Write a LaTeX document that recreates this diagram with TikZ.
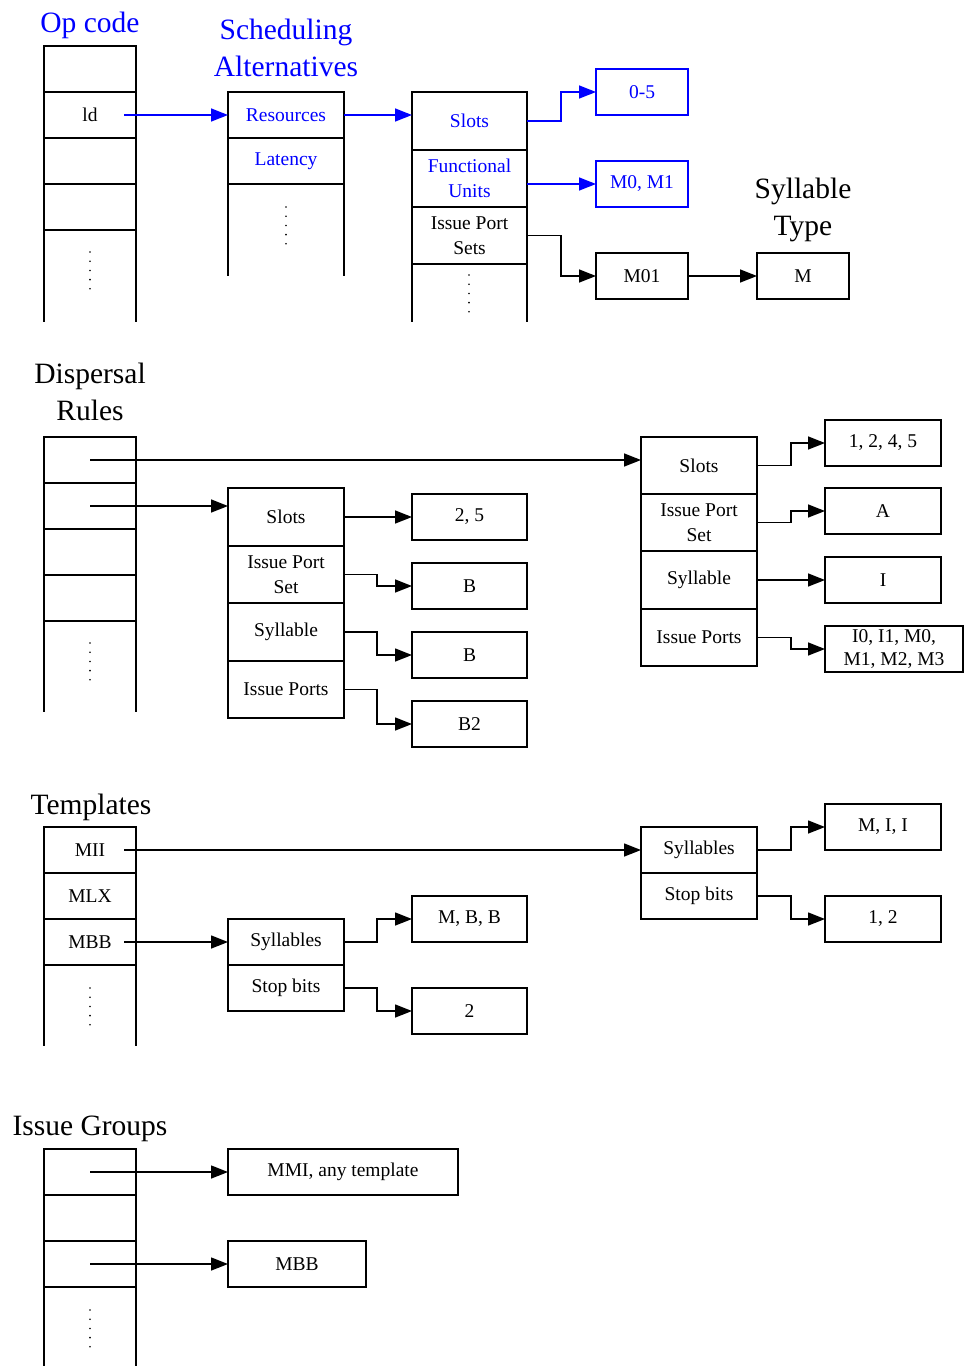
\documentclass[tikz,border=0pt]{standalone}
\usepackage{fontspec}
\setmainfont{Liberation Serif}
\usetikzlibrary{arrows.meta}
\definecolor{myblue}{RGB}{0,0,255}
\newcommand\labfont{\fontsize{19.5}{24.5}\selectfont}
\newcommand\titfont{\fontsize{29.5}{36.5}\selectfont}
\tikzset{
  cell/.style={draw, line width=1.5pt, inner sep=0pt, outer sep=0pt, align=center, font=\labfont},
  bluecell/.style={cell, draw=myblue, text=myblue},
  bluetext/.style={text=myblue},
  colline/.style={line width=1.5pt},
  conn/.style={line width=1.5pt, -{Triangle[length=17pt,width=13pt]}},
  bconn/.style={conn, draw=myblue},
  ttl/.style={font=\titfont, align=center, inner sep=0pt},
}
\newcommand\cb[7]{%
  \pgfmathsetmacro\cbx{(#2+#4)/2}%
  \pgfmathsetmacro\cby{(#3+#5)/2}%
  \pgfmathsetmacro\cbw{#4-#2}%
  \pgfmathsetmacro\cbh{#5-#3}%
  \node[cell,minimum width=\cbw pt,minimum height=\cbh pt,#6] (#1) at (\cbx,\cby) {#7};}
\newcommand\vdts[2]{\foreach \k in {0,...,4}{\fill (#1,#2+9.2*\k) circle (0.9pt);}}
\begin{document}
\begin{tikzpicture}[x=1pt,y=-1pt]
\useasboundingbox (0,0) rectangle (966,1366);
% ---------------- Op code / Scheduling ----------------
\node[ttl,text=myblue] (tOp) at (90,25) {Op code};
\node[ttl,text=myblue] (tSA) at (286,48) {Scheduling\\Alternatives};
\cb{oc1}{44}{46}{136}{92}{}{}
\cb{oc2}{44}{92}{136}{138}{}{ld}
\cb{oc3}{44}{138}{136}{184}{}{}
\cb{oc4}{44}{184}{136}{230}{}{}
\draw[colline] (oc4.south west) -- (44,322) (oc4.south east) -- (136,322);
\vdts{90}{252}
\cb{sa1}{228}{92}{344}{138}{bluetext}{Resources}
\cb{sa2}{228}{138}{344}{184}{bluetext}{Latency}
\draw[colline] (sa2.south west) -- (228,276) (sa2.south east) -- (344,276);
\vdts{286}{207}
\cb{sl1}{412}{92}{527}{150}{bluetext}{Slots}
\cb{sl2}{412}{150}{527}{207}{bluetext}{Functional\\Units}
\cb{sl3}{412}{207}{527}{264}{}{Issue Port\\Sets}
\draw[colline] (sl3.south west) -- (412,322) (sl3.south east) -- (527,322);
\vdts{469}{275}
\cb{b05}{596}{69}{688}{115}{bluecell}{0-5}
\cb{bm01}{596}{161}{688}{207}{bluecell}{M0, M1}
\cb{bM01}{596}{253}{688}{299}{}{M01}
\cb{bM}{757}{253}{849}{299}{}{M}
\node[ttl] (tST) at (803,210) {Syllable\\Type};
\draw[bconn] ([xshift=-12pt]oc2.east) -- (sa1.west);
\draw[bconn] (sa1.east) -- (sa1.east -| sl1.west);
\draw[bconn] (sl1.east) -- ++(34,0) |- (b05.west);
\draw[bconn] (bm01.west -| sl2.east) -- (bm01.west);
\draw[conn] (sl3.east) -- ++(34,0) |- (bM01.west);
\draw[conn] (bM01) -- (bM);
% ---------------- Dispersal Rules ----------------
\node[ttl] (tDR) at (90,392) {Dispersal\\Rules};
\cb{dr1}{44}{437}{136}{483}{}{}
\cb{dr2}{44}{483}{136}{529}{}{}
\cb{dr3}{44}{529}{136}{575}{}{}
\cb{dr4}{44}{575}{136}{621}{}{}
\draw[colline] (dr4.south west) -- (44,712) (dr4.south east) -- (136,712);
\vdts{90}{643}
\cb{ms1}{228}{488}{344}{546}{}{Slots}
\cb{ms2}{228}{546}{344}{603}{}{Issue Port\\Set}
\cb{ms3}{228}{603}{344}{661}{}{Syllable}
\cb{ms4}{228}{661}{344}{718}{}{Issue Ports}
\cb{mb1}{412}{494}{527}{540}{}{2, 5}
\cb{mb2}{412}{563}{527}{609}{}{B}
\cb{mb3}{412}{632}{527}{678}{}{B}
\cb{mb4}{412}{701}{527}{747}{}{B2}
\cb{rs1}{641}{437}{757}{494}{}{Slots}
\cb{rs2}{641}{494}{757}{551}{}{Issue Port\\Set}
\cb{rs3}{641}{551}{757}{609}{}{Syllable}
\cb{rs4}{641}{609}{757}{666}{}{Issue Ports}
\cb{rb1}{825}{420}{941}{466}{}{1, 2, 4, 5}
\cb{rb2}{825}{488}{941}{534}{}{A}
\cb{rb3}{825}{557}{941}{603}{}{I}
\cb{rb4}{825}{626}{963}{672}{font=\fontsize{19.5}{23.5}\selectfont}{I0, I1, M0,\\M1, M2, M3}
\draw[conn] (dr1.center) -- (dr1.center -| rs1.west);
\draw[conn] (dr2.center) -- (dr2.center -| ms1.west);
\draw[conn] (ms1.east) -- (mb1.west);
\draw[conn] (ms2.east) -- ++(33,0) |- (mb2.west);
\draw[conn] (ms3.east) -- ++(33,0) |- (mb3.west);
\draw[conn] (ms4.east) -- ++(33,0) |- (mb4.west);
\draw[conn] (rs1.east) -- ++(34,0) |- (rb1.west);
\draw[conn] (rs2.east) -- ++(34,0) |- (rb2.west);
\draw[conn] (rs3.east) -- (rb3.west);
\draw[conn] (rs4.east) -- ++(34,0) |- (rb4.west);
% ---------------- Templates ----------------
\node[ttl] (tTP) at (91,807) {Templates};
\cb{tp1}{44}{827}{136}{873}{}{MII}
\cb{tp2}{44}{873}{136}{919}{}{MLX}
\cb{tp3}{44}{919}{136}{965}{}{MBB}
\draw[colline] (tp3.south west) -- (44,1046) (tp3.south east) -- (136,1046);
\vdts{90}{988}
\cb{tm1}{228}{919}{344}{965}{}{Syllables}
\cb{tm2}{228}{965}{344}{1011}{}{Stop bits}
\cb{tb1}{412}{896}{527}{942}{}{M, B, B}
\cb{tb2}{412}{988}{527}{1034}{}{2}
\cb{tr1}{641}{827}{757}{873}{}{Syllables}
\cb{tr2}{641}{873}{757}{919}{}{Stop bits}
\cb{trb1}{825}{804}{941}{850}{}{M, I, I}
\cb{trb2}{825}{896}{941}{942}{}{1, 2}
\draw[conn] ([xshift=-12pt]tp1.east) -- (tr1.west);
\draw[conn] ([xshift=-12pt]tp3.east) -- (tm1.west);
\draw[conn] (tm1.east) -- ++(33,0) |- (tb1.west);
\draw[conn] (tm2.east) -- ++(33,0) |- (tb2.west);
\draw[conn] (tr1.east) -- ++(34,0) |- (trb1.west);
\draw[conn] (tr2.east) -- ++(34,0) |- (trb2.west);
% ---------------- Issue Groups ----------------
\node[ttl] (tIG) at (90,1129) {Issue Groups};
\cb{ig1}{44}{1149}{136}{1195}{}{}
\cb{ig2}{44}{1195}{136}{1241}{}{}
\cb{ig3}{44}{1241}{136}{1287}{}{}
\draw[colline] (ig3.south west) -- (44,1366) (ig3.south east) -- (136,1366);
\vdts{90}{1310}
\cb{ib1}{228}{1149}{458}{1195}{}{MMI, any template}
\cb{ib2}{228}{1241}{366}{1287}{}{MBB}
\draw[conn] (ig1.center) -- (ib1.west);
\draw[conn] (ig3.center) -- (ib2.west);
\end{tikzpicture}
\end{document}
